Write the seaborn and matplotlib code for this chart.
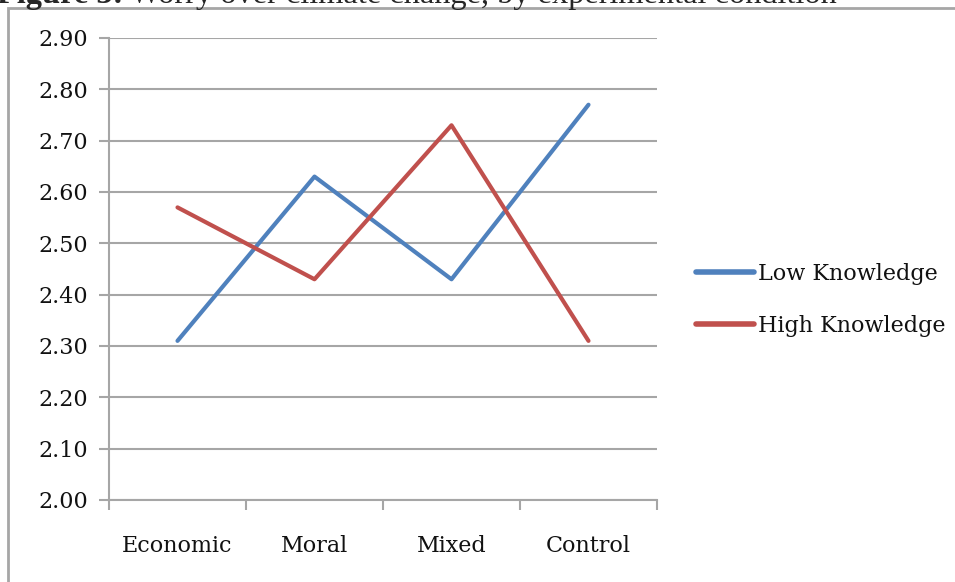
import matplotlib
matplotlib.use("Agg")
import matplotlib.pyplot as plt
from matplotlib.patches import Rectangle
from matplotlib.ticker import FixedLocator
import seaborn as sns
import pandas as pd

# Mean worry scores per experimental condition
conditions = ["Economic", "Moral", "Mixed", "Control"]
low_knowledge = [2.31, 2.63, 2.43, 2.77]
high_knowledge = [2.57, 2.43, 2.73, 2.31]
series_names = ["Low Knowledge", "High Knowledge"]
y_ticks = [2.00, 2.10, 2.20, 2.30, 2.40, 2.50, 2.60, 2.70, 2.80, 2.90]

df = pd.DataFrame({
    "condition": conditions * 2,
    "worry": low_knowledge + high_knowledge,
    "group": [series_names[0]] * len(conditions) + [series_names[1]] * len(conditions),
})

sns.set_theme(style="white")
plt.rcParams["font.family"] = ["DejaVu Serif"]

W, H = 955, 582
fig = plt.figure(figsize=(W / 100, H / 100), dpi=100)
ax = fig.add_axes([109 / W, (H - 500) / H, (657 - 109) / W, (500 - 38) / H])

palette = {"Low Knowledge": "#4F81BD", "High Knowledge": "#C0504D"}
sns.lineplot(data=df, x="condition", y="worry", hue="group", hue_order=series_names,
             palette=palette, sort=False, linewidth=3.0, ax=ax,
             solid_capstyle="round", legend=True)

grid_color = "#A6A6A6"
text_color = "#111111"
ax.set_xlim(-0.5, len(conditions) - 0.5)
ax.set_ylim(2.0, 2.9)
ax.set_yticks(y_ticks)
ax.set_yticklabels([f"{v:.2f}" for v in y_ticks])
ax.yaxis.grid(True, color=grid_color, linewidth=1.5)
ax.xaxis.grid(False)
ax.set_axisbelow(True)

# Category boundaries carry the tick marks on the x axis
ax.xaxis.set_minor_locator(FixedLocator([i - 0.5 for i in range(len(conditions) + 1)]))
ax.tick_params(axis="x", which="major", bottom=False, length=0, pad=25,
               labelsize=16, labelcolor=text_color)
ax.tick_params(axis="x", which="minor", bottom=True, length=7, width=1.5,
               color=grid_color, direction="out")
ax.tick_params(axis="y", which="major", left=True, length=7, width=1.5, color=grid_color,
               direction="out", pad=8, labelsize=16, labelcolor=text_color)
ax.set_xlabel("")
ax.set_ylabel("")

for side in ["top", "right"]:
    ax.spines[side].set_visible(False)
for side in ["left", "bottom"]:
    ax.spines[side].set_color(grid_color)
    ax.spines[side].set_linewidth(1.5)

leg = ax.legend(loc="center left", bbox_to_anchor=(1.072, 0.433), frameon=False,
                fontsize=16, handlelength=2.6, handletextpad=0.15, labelspacing=1.35,
                borderaxespad=0, borderpad=0)
for line in leg.get_lines():
    line.set_linewidth(4)
for t in leg.get_texts():
    t.set_color(text_color)

# Outer chart frame
fig.patches.append(Rectangle((8 / W, -0.1), 1.2, (H - 8) / H + 0.1, transform=fig.transFigure,
                             fill=False, edgecolor=grid_color, linewidth=2))

# Caption above the chart
base_y = (H - 3) / H
t1 = fig.text(-3 / W, base_y, "Figure 3:", fontsize=23.3, family="Liberation Serif",
              fontweight="bold", va="baseline", ha="left")
fig.canvas.draw()
bb = t1.get_window_extent()
fig.text((bb.x1 + 7) / W, base_y, "Worry over climate change, by experimental condition",
         fontsize=23.3, family="Liberation Serif", va="baseline", ha="left")

fig.savefig("out.png", dpi=100)
